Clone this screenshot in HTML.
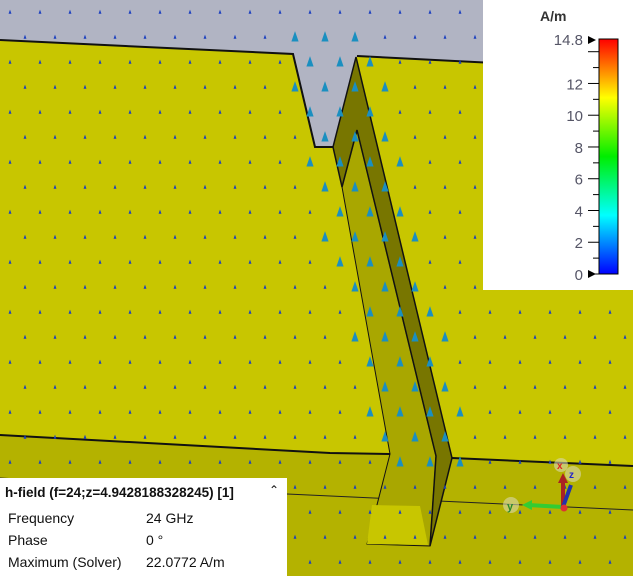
<!DOCTYPE html>
<html><head><meta charset="utf-8"><style>
html,body{margin:0;padding:0;width:633px;height:576px;overflow:hidden;background:#c8c600;font-family:"Liberation Sans",sans-serif}
svg{position:absolute;left:0;top:0}
</style></head><body>
<svg id="s" width="633" height="576">
<rect x="0" y="0" width="633" height="576" fill="#c8c600"/>
<polygon points="0,435 330,453 390,454 452,458 633,466 633,576 0,576" fill="#b4b200"/>
<polyline points="0,435 330,453 390,454 452,458 633,466" fill="none" stroke="#111" stroke-width="2"/>
<polyline points="0,478 287,494 633,510" fill="none" stroke="#222" stroke-width="1"/>
<polygon points="0,0 633,0 633,70 357,56 333,147 315,147 293,54 0,40" fill="#b1b4c3"/>
<polyline points="0,40 293,54 315,147 333,147" fill="none" stroke="#111" stroke-width="2"/>
<polyline points="357,56 633,70" fill="none" stroke="#111" stroke-width="2"/>
<polygon points="357,130 436,456 430,546 367,544 390,454 342,187" fill="#a9a700" stroke="#111" stroke-width="1"/>
<polygon points="372,505 420,506 428,545 367,544" fill="#c8c600"/>
<polygon points="333,147 356,57 452,458 430,546 436,456 357,130 342,187" fill="#787600" stroke="#111" stroke-width="1.5"/>
<g id="arrows"></g>
<g>
<circle cx="511" cy="505" r="8" fill="#d8d8b0" opacity="0.6"/>
<text x="507" y="510" font-size="11" fill="#2a8a2a" font-weight="bold">y</text>
<line x1="563" y1="507" x2="528" y2="505" stroke="#3c3" stroke-width="4"/>
<polygon points="522,505 532,500 532,510" fill="#3c3"/>
<line x1="563" y1="507" x2="563" y2="478" stroke="#a22" stroke-width="4"/>
<polygon points="563,473 558,483 568,483" fill="#a22"/>
<circle cx="561" cy="465" r="7" fill="#d8d8b0" opacity="0.6"/>
<text x="557" y="469" font-size="10" fill="#d22" font-weight="bold">x</text>
<line x1="563" y1="507" x2="571" y2="485" stroke="#23a" stroke-width="4"/>
<circle cx="573" cy="474" r="8" fill="#d8d8b0" opacity="0.6"/>
<text x="569" y="478" font-size="10" fill="#22c" font-weight="bold">z</text>
<circle cx="564" cy="508" r="3.5" fill="#d33"/>
</g>
<rect x="483" y="0" width="150" height="290" fill="#fff"/>
<text x="540" y="21" font-size="14" font-weight="bold" fill="#333">A/m</text>
<defs><linearGradient id="g" x1="0" y1="1" x2="0" y2="0">
<stop offset="0" stop-color="#0000ff"/><stop offset="0.25" stop-color="#00ffff"/><stop offset="0.5" stop-color="#00ee00"/><stop offset="0.75" stop-color="#ffff00"/><stop offset="1" stop-color="#ff0000"/></linearGradient></defs>
<rect x="599" y="39" width="19" height="235" fill="url(#g)" stroke="#000" stroke-width="1"/>
<g id="ticks"></g>
<polygon points="588,36 596,40 588,44" fill="#000"/>
<polygon points="588,270 596,274 588,278" fill="#000"/>
</svg>
<div style="position:absolute;left:0;top:478px;width:287px;height:98px;background:#fff;font-size:14px;color:#111">
<div style="position:absolute;left:5px;top:7px;font-weight:bold;font-size:13.5px">h-field (f=24;z=4.9428188328245) [1]</div>
<div style="position:absolute;left:269px;top:5px;font-size:12px">&#8963;</div>
<div style="position:absolute;left:8px;top:32px">Frequency</div>
<div style="position:absolute;left:146px;top:32px">24 GHz</div>
<div style="position:absolute;left:8px;top:54px">Phase</div>
<div style="position:absolute;left:146px;top:54px">0 °</div>
<div style="position:absolute;left:8px;top:76px">Maximum (Solver)</div>
<div style="position:absolute;left:146px;top:76px">22.0772 A/m</div>
</div>
<script>
const tickValues=[0,2,4,6,8,10,12,14.8];
const tickLabels=["0","2","4","6","8","10","12","14.8"];
const vmin=0,vmax=14.8;
const NS="http://www.w3.org/2000/svg";
function yScale(v){return 274-(v-vmin)/(vmax-vmin)*235;}
const tg=document.getElementById('ticks');
tickValues.forEach((v,i)=>{
 const t=document.createElementNS(NS,'text');
 
 
 t.setAttribute('x',583);t.setAttribute('y',yScale(v)+6);
 t.setAttribute('text-anchor','end');t.setAttribute('font-size','15');t.setAttribute('fill','#556');
 t.textContent=tickLabels[i];tg.appendChild(t);
});
for(let v=0;v<=14;v+=1){
 const l=document.createElementNS(NS,'line');
 
 
 const y=yScale(v);const w=(v%2===0)?11:6;
 l.setAttribute('x1',599-w);l.setAttribute('x2',599);l.setAttribute('y1',y);l.setAttribute('y2',y);
 l.setAttribute('stroke','#000');tg.appendChild(l);
}
const ag=document.getElementById('arrows');
for(let y=12;y<576;y+=25){for(let x=10;x<633;x+=30){
 const xx=x+((Math.round(y/25))%2)*15;
 if(xx>480&&y<292)continue; if(xx<290&&y>475)continue;
 const cx=335+(y-60)*0.22;
 const near=Math.abs(xx-cx)<50&&y<480&&y>20;
 const p=document.createElementNS(NS,'polygon');
 
 
 const s=near?4.5:1.8;
 p.setAttribute('points',`${xx},${y-s*1.3} ${xx-s*0.8},${y+s} ${xx+s*0.8},${y+s}`);
 p.setAttribute('fill',near?'#1a8fc0':'#1a3fc0');
 ag.appendChild(p);
}}
</script>
</body></html>
